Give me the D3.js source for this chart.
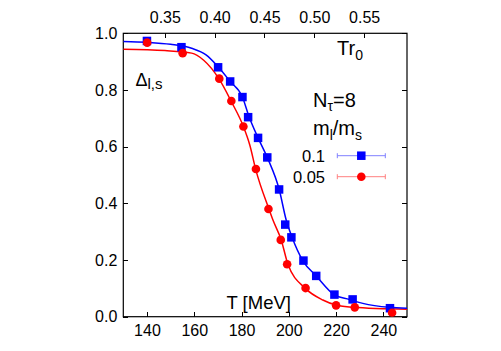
<!DOCTYPE html>
<meta charset="utf-8">
<style>
body { margin: 0; background: #fff; }
svg { font-family: "Liberation Sans", Arial, sans-serif; }
.axis text { font-size: 16px; fill: #000; }
.axis path { stroke: none; }
.axis line { stroke: #000; shape-rendering: crispEdges; }
.frame { fill: none; stroke: #000; stroke-width: 1.2; }
</style>
<body>
<script src="https://d3js.org/d3.v7.min.js"></script>
<script>

// temperatures in MeV, Delta_l,s values
var T_blue = [140, 154.6, 170.1, 175.2, 180.4, 182.8, 187.0, 190.9, 195.9, 198.5, 201.1, 206.2, 211.6, 219.3, 227.0, 242.8];
var D_blue = [0.973, 0.951, 0.880, 0.830, 0.775, 0.704, 0.631, 0.562, 0.449, 0.325, 0.280, 0.198, 0.144, 0.078, 0.061, 0.030];

var T_red = [140.1, 155.1, 170.6, 175.7, 180.8, 186.1, 191.4, 196.6, 199.3, 207.1, 220.0, 227.9, 243.7];
var D_red = [0.967, 0.930, 0.840, 0.761, 0.671, 0.521, 0.380, 0.271, 0.185, 0.101, 0.040, 0.033, 0.014];

// fit curves
var fitT_blue = [130, 140, 150, 158.9, 165, 170.1, 175.2, 180.4, 183, 187, 191, 196, 198.9, 201.3, 205.9, 211.6, 219.3, 225.6, 231.3, 242.5, 250];
var fitD_blue = [0.971, 0.968, 0.961, 0.947, 0.924, 0.882, 0.830, 0.775, 0.710, 0.631, 0.560, 0.447, 0.341, 0.282, 0.198, 0.144, 0.077, 0.061, 0.047, 0.033, 0.030];

var fitT_red = [130, 147.6, 158.9, 164, 170.5, 175.7, 180.8, 183.5, 186.0, 191.6, 193.3, 196.8, 199.6, 207.0, 214.4, 220.0, 227.0, 250];
var fitD_red = [0.944, 0.939, 0.930, 0.905, 0.839, 0.759, 0.671, 0.606, 0.520, 0.380, 0.341, 0.271, 0.186, 0.100, 0.059, 0.041, 0.033, 0.026];

var xTicks = [140, 160, 180, 200, 220, 240];
var yTicks = [0, 0.2, 0.4, 0.6, 0.8, 1.0];
var topTicks = [0.35, 0.40, 0.45, 0.50, 0.55];
var legendLabels = ["0.1", "0.05"];

var r0conv = 421.6; // T [MeV] = Tr0 * 421.6

var margin = {top: 33.3, right: 94, bottom: 34.3, left: 123.3},
    width = 501 - margin.left - margin.right,
    height = 351 - margin.top - margin.bottom;

var x = d3.scaleLinear().domain([130, 250]).range([0, width]);
var y = d3.scaleLinear().domain([0, 1]).range([height, 0]);
var xTop = d3.scaleLinear().domain([130 / r0conv, 250 / r0conv]).range([0, width]);

var svg = d3.select('body').append('svg')
    .attr('width', 501)
    .attr('height', 351);

var chart = svg.append('g')
    .attr('transform', 'translate(' + margin.left + ',' + margin.top + ')');

chart.append('g').attr('class', 'axis')
    .attr('transform', 'translate(0,' + height + ')')
    .call(d3.axisBottom(x).tickValues(xTicks).tickSize(-5).tickPadding(8).tickFormat(d3.format('d')));

chart.append('g').attr('class', 'axis')
    .call(d3.axisLeft(y).tickValues(yTicks).tickSize(-5).tickPadding(6).tickFormat(d3.format('.1f')));

chart.append('g').attr('class', 'axis')
    .attr('transform', 'translate(' + width + ',0)')
    .call(d3.axisRight(y).tickValues(yTicks).tickSize(-5).tickFormat(''));

chart.append('g').attr('class', 'axis')
    .call(d3.axisTop(xTop).tickValues(topTicks).tickSize(-5).tickPadding(10.5).tickFormat(d3.format('.2f')));

chart.append('rect').attr('class', 'frame')
    .attr('width', width).attr('height', height);

var clip = chart.append('clipPath').attr('id', 'clip')
    .append('rect').attr('width', width).attr('height', height);

var line = d3.line()
    .x(function(d) { return x(d[0]); })
    .y(function(d) { return y(d[1]); })
    .curve(d3.curveMonotoneX);

var plot = chart.append('g').attr('clip-path', 'url(#clip)');

plot.append('path')
    .datum(d3.zip(fitT_red, fitD_red))
    .attr('d', line)
    .attr('fill', 'none').attr('stroke', '#ff0000').attr('stroke-width', 1.5);

plot.append('path')
    .datum(d3.zip(fitT_blue, fitD_blue))
    .attr('d', line)
    .attr('fill', 'none').attr('stroke', '#0000ff').attr('stroke-width', 1.5);

var sq = 8.5;
plot.selectAll('rect.pt').data(d3.zip(T_blue, D_blue)).enter()
    .append('rect').attr('class', 'pt')
    .attr('x', function(d) { return x(d[0]) - sq / 2; })
    .attr('y', function(d) { return y(d[1]) - sq / 2; })
    .attr('width', sq).attr('height', sq)
    .attr('fill', '#0000ff');

plot.selectAll('circle.pt').data(d3.zip(T_red, D_red)).enter()
    .append('circle').attr('class', 'pt')
    .attr('cx', function(d) { return x(d[0]); })
    .attr('cy', function(d) { return y(d[1]); })
    .attr('r', 4.3)
    .attr('fill', '#ff0000');

// labels
var Tr = svg.append('text').attr('x', 337).attr('y', 54.5).attr('font-size', 20);
Tr.append('tspan').text('Tr');
Tr.append('tspan').attr('font-size', 14).attr('dy', 5).text('0');

var Dl = svg.append('text').attr('x', 135.5).attr('y', 86).attr('font-size', 18);
Dl.append('tspan').text('\u0394');
Dl.append('tspan').attr('font-size', 15).attr('dy', 3).text('l,s');

svg.append('text').attr('x', 226.5).attr('y', 309.3).attr('font-size', 18.5).text('T [MeV]');

var Nt = svg.append('text').attr('x', 313).attr('y', 106.7).attr('font-size', 20);
Nt.append('tspan').text('N');
Nt.append('tspan').attr('font-size', 14).attr('dy', 4).text('\u03c4');
Nt.append('tspan').attr('dy', -4).text('=8');

var ml = svg.append('text').attr('x', 313).attr('y', 134.5).attr('font-size', 20);
ml.append('tspan').text('m');
ml.append('tspan').attr('font-size', 14).attr('dy', 5).text('l');
ml.append('tspan').attr('dy', -5).text('/m');
ml.append('tspan').attr('font-size', 14).attr('dy', 5).text('s');

// legend entries
var legY = [155.7, 176.7];
var legCol = ['#0000ff', '#ff0000'];
var legLight = ['#8080ff', '#ff8080'];
legendLabels.forEach(function(lab, i) {
  var g = svg.append('g');
  g.append('text').attr('x', 325).attr('y', legY[i] + 5.8)
    .attr('font-size', 16.5).attr('text-anchor', 'end').text(lab);
  g.append('line').attr('x1', 337.3).attr('x2', 385.3)
    .attr('y1', legY[i]).attr('y2', legY[i])
    .attr('stroke', legLight[i]).attr('stroke-width', 1);
  [337.3, 385.3].forEach(function(cx) {
    g.append('line').attr('x1', cx).attr('x2', cx)
      .attr('y1', legY[i] - 2.5).attr('y2', legY[i] + 2.5)
      .attr('stroke', legLight[i]).attr('stroke-width', 1);
  });
  if (i === 0) {
    g.append('rect').attr('x', 361.3 - sq / 2).attr('y', legY[i] - sq / 2)
      .attr('width', sq).attr('height', sq).attr('fill', legCol[i]);
  } else {
    g.append('circle').attr('cx', 361.3).attr('cy', legY[i]).attr('r', 4.3).attr('fill', legCol[i]);
  }
});

</script>
</body>
